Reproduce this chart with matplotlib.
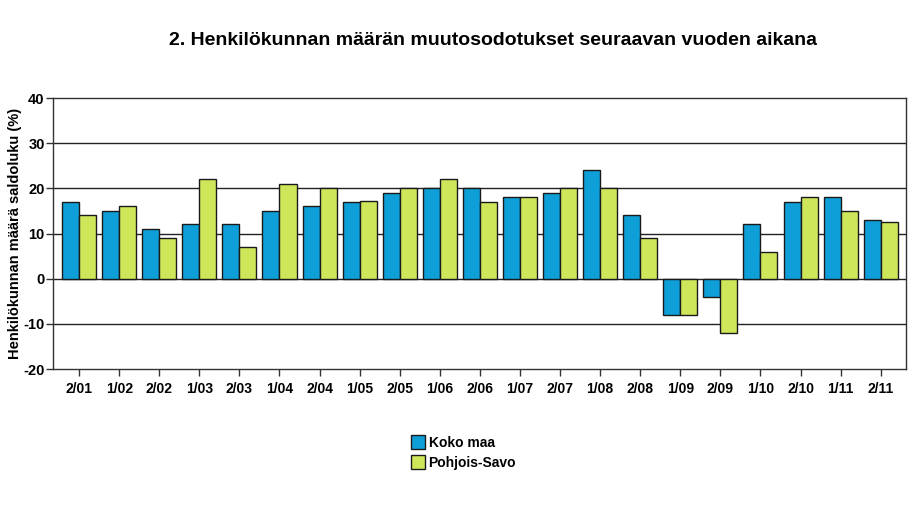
import numpy as np
import matplotlib.pyplot as plt
from matplotlib.patches import Patch

plt.rcParams['font.family'] = ['Liberation Sans', 'DejaVu Sans']
plt.rcParams['axes.unicode_minus'] = False

periods = ['2/01', '1/02', '2/02', '1/03', '2/03', '1/04', '2/04', '1/05', '2/05', '1/06', '2/06',
           '1/07', '2/07', '1/08', '2/08', '1/09', '2/09', '1/10', '2/10', '1/11', '2/11']
koko_maa = [17, 15, 11, 12, 12, 15, 16, 17, 19, 20, 20, 18, 19, 24, 14, -8, -4, 12, 17, 18, 13.1]
pohjois_savo = [14, 16, 9, 22, 7, 21, 20, 17.3, 20, 22, 17, 18, 20, 20, 9, -8, -12, 6, 18, 15, 12.6]

blue = '#0f9fd8'
green = '#cde65a'

fig = plt.figure(figsize=(9.22, 5.18), dpi=100)
ax = fig.add_axes([0.0575, 0.2876, 0.9251, 0.5232])

x = np.arange(len(periods))
w = 0.425
ax.bar(x - w/2, koko_maa, w, color=blue, edgecolor='#1a1a1a', linewidth=1, zorder=3)
ax.bar(x + w/2, pohjois_savo, w, color=green, edgecolor='#1a1a1a', linewidth=1, zorder=3)

ax.set_ylim(-20, 40)
ax.set_yticks(range(-20, 41, 10))
ax.set_xlim(-0.65, len(periods) - 1 + 0.63)
ax.set_xticks(x)
ax.set_xticklabels(periods, fontweight='bold', fontsize=10)
for lbl in ax.get_yticklabels():
    lbl.set_fontweight('bold')
    lbl.set_fontsize(10.5)
ax.tick_params(axis='both', direction='out', length=5, width=1, color='#333333')
ax.tick_params(axis='x', pad=4)
ax.tick_params(axis='y', pad=1)

for v in [-10, 0, 10, 20, 30]:
    ax.axhline(v, color='#222222', linewidth=1, zorder=1)

for s in ax.spines.values():
    s.set_color('#333333')
    s.set_linewidth(1)

ax.set_ylabel('Henkilökunnan määrä saldoluku (%)', fontweight='bold', fontsize=10.5, labelpad=1)

fig.text(0.535, 0.922, '2. Henkilökunnan määrän muutosodotukset seuraavan vuoden aikana',
         ha='center', va='center', fontweight='bold', fontsize=14)

handles = [Patch(facecolor=blue, edgecolor='#1a1a1a', label='Koko maa'),
           Patch(facecolor=green, edgecolor='#1a1a1a', label='Pohjois-Savo')]
fig.legend(handles=handles, loc='upper left', bbox_to_anchor=(0.446, 0.16), frameon=False,
           prop={'weight': 'bold', 'size': 10}, handlelength=1.0, handleheight=1.2,
           handletextpad=0.25, labelspacing=0.35, borderaxespad=0, borderpad=0)

fig.savefig('out.png', dpi=100)
